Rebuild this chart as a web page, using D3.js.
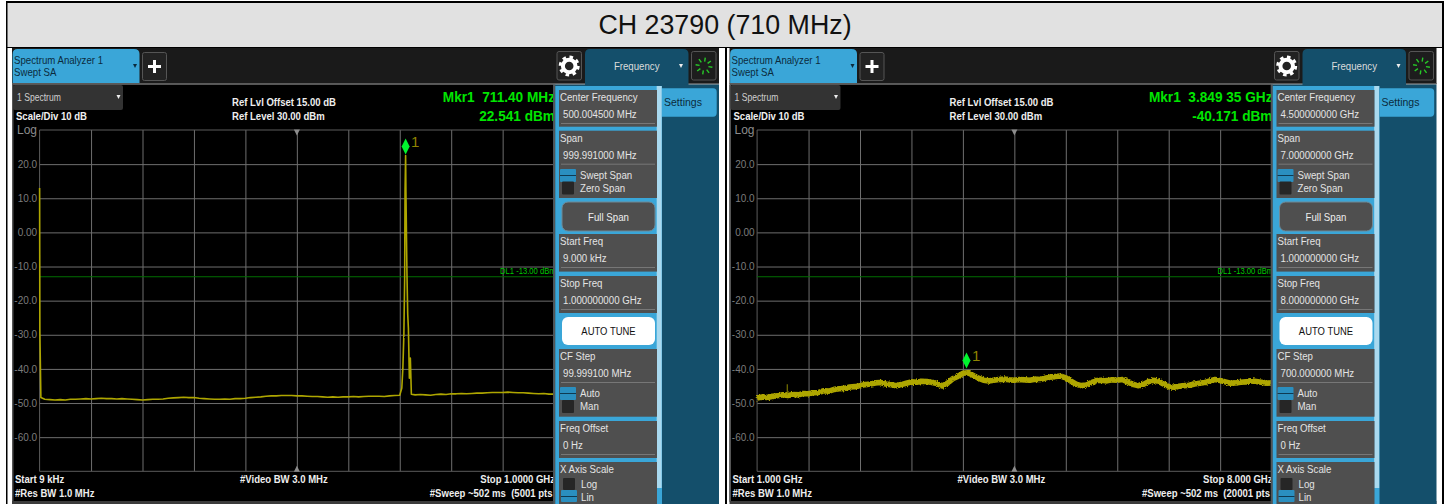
<!DOCTYPE html>
<html>
<head>
<meta charset="utf-8">
<script src="https://cdn.jsdelivr.net/npm/d3@7"></script>
<style>
html, body { margin: 0; padding: 0; background: #fff; overflow: hidden; }
svg { display: block; font-family: "Liberation Sans", Arial, sans-serif; }
text { white-space: pre; }
</style>
</head>
<body>
<div class="chart"></div>
<script>
const WIDTH = 1450;
const HEIGHT = 504;

const TITLE = "CH 23790 (710 MHz)";
const LEVEL_TICKS = [20, 10, 0, -10, -20, -30, -40, -50, -60];
const LEVEL_LABELS = ["20.0", "10.0", "0.00", "-10.0", "-20.0", "-30.0", "-40.0", "-50.0", "-60.0"];
const LEVEL_RANGE = [-70, 30];
const DISPLAY_LINE = -13;

// left sweep, MHz / dBm
const leftFreqs = [0.009, 0.5, 2.5,
    10, 20, 30, 40, 50, 60, 70, 80, 90, 100, 110, 120, 130, 140, 150, 160, 170, 180, 190, 200,
    210, 220, 230, 240, 250, 260, 270, 280, 290, 300, 310, 320, 330, 340, 350, 360, 370, 380, 390, 400,
    410, 420, 430, 440, 450, 460, 470, 480, 490, 500, 510, 520, 530, 540, 550, 560, 570, 580, 590, 600,
    610, 620, 630, 640, 650, 660, 670, 680, 690, 700,
    704, 706, 708, 709.5, 710.3, 711.4, 712, 714, 715.5, 716.8, 718.7, 720.6, 722.6,
    730, 740, 750, 760, 770, 780, 790, 800, 810, 820, 830, 840, 850, 860, 870, 880, 890, 900,
    910, 920, 930, 940, 950, 960, 970, 980, 990, 1000];
const leftLevels = [13, -28.9, -48.4,
    -48.9, -49.0, -49.1, -49.0, -49.1, -48.9, -48.9, -48.8, -48.7, -48.8, -48.7, -48.6, -48.7, -48.7, -48.8, -48.7, -48.8, -48.9, -49.0, -49.1,
    -49.0, -48.9, -48.9, -48.8, -48.6, -48.5, -48.4, -48.3, -48.4, -48.4, -48.6, -48.7, -48.8, -48.9, -48.9, -48.8, -48.9, -48.7, -48.7, -48.6,
    -48.4, -48.3, -48.2, -48.0, -47.9, -47.9, -47.8, -47.8, -47.8, -47.9, -47.9, -48.0, -48.1, -48.1, -48.2, -48.3, -48.2, -48.3, -48.2, -48.2,
    -48.1, -48.2, -48.1, -48.0, -48.0, -48.0, -48.1, -47.9, -47.8, -47.7,
    -45.6, -40, -30, -14, 12, 22.541, 12, -12, -24, -28, -42.7, -36.8, -47.4,
    -47.6, -47.5, -47.6, -47.7, -47.5, -47.4, -47.5, -47.3, -47.3, -47.2, -47.3, -47.2, -47.1, -47.1, -47.0, -46.9, -46.9, -46.9,
    -46.8, -46.9, -47.0, -47.0, -47.1, -47.2, -47.3, -47.2, -47.4, -47.4];

// right sweep, GHz / dBm
const rightFreqs = [1, 1.07, 1.14, 1.21, 1.28, 1.35, 1.42, 1.49, 1.56, 1.63,
    1.7, 1.77, 1.84, 1.91, 1.98, 2.05, 2.12, 2.19, 2.26, 2.33,
    2.4, 2.47, 2.54, 2.61, 2.68, 2.75, 2.82, 2.89, 2.96, 3.03,
    3.1, 3.17, 3.24, 3.31, 3.38, 3.45, 3.52, 3.59, 3.66, 3.73,
    3.8, 3.87, 3.94, 4.01, 4.08, 4.15, 4.22, 4.29, 4.36, 4.43,
    4.5, 4.57, 4.64, 4.71, 4.78, 4.85, 4.92, 4.99, 5.06, 5.13,
    5.2, 5.27, 5.34, 5.41, 5.48, 5.55, 5.62, 5.69, 5.76, 5.83,
    5.9, 5.97, 6.04, 6.11, 6.18, 6.25, 6.32, 6.39, 6.46, 6.53,
    6.6, 6.67, 6.74, 6.81, 6.88, 6.95, 7.02, 7.09, 7.16, 7.23,
    7.3, 7.37, 7.44, 7.51, 7.58, 7.65, 7.72, 7.79, 7.86, 7.93, 8];
const rightLevels = [-48.5, -48.2, -48.4, -48.0, -47.9, -47.6, -47.8, -47.5, -47.6, -47.2,
    -47.3, -47.0, -46.9, -46.4, -46.5, -46.0, -45.8, -45.7, -45.3, -45.2,
    -44.9, -44.6, -44.4, -44.1, -44.0, -44.4, -44.6, -44.9, -44.6, -44.2,
    -43.8, -43.9, -43.6, -43.7, -44.0, -44.3, -45.0, -44.2, -42.9, -42.2,
    -41.3, -41.1, -41.9, -42.7, -43.3, -43.5, -43.3, -43.1, -43.0, -43.2,
    -43.3, -43.1, -43.2, -43.3, -43.0, -43.1, -42.7, -42.4, -42.2, -42.1,
    -42.6, -43.6, -44.5, -44.9, -44.7, -44.0, -43.4, -43.3, -43.5, -43.2,
    -43.3, -43.1, -43.8, -44.5, -44.9, -44.6, -43.8, -43.3, -43.6, -44.4,
    -45.2, -45.4, -45.1, -44.9, -44.8, -44.4, -44.2, -44.0, -43.5, -43.1,
    -43.4, -43.8, -44.2, -44.1, -43.9, -43.8, -43.5, -43.7, -43.9, -44.2, -44.1];
const rightSpurFreqs = [1.41, 1.41];
const rightSpurLevels = [-47.6, -44.5];

const leftMarker = [711.4, 22.541];
const rightMarker = [3.84935, -40.171];

const leftTexts = {
    mkr: "Mkr1  711.40 MHz", mkrLevel: "22.541 dBm",
    start: "Start 9 kHz", stop: "Stop 1.0000 GHz", sweep: "#Sweep ~502 ms  (5001 pts",
    center: "500.004500 MHz", span: "999.991000 MHz", startFreq: "9.000 kHz",
    stopFreq: "1.000000000 GHz", cfStep: "99.999100 MHz"
};
const rightTexts = {
    mkr: "Mkr1  3.849 35 GHz", mkrLevel: "-40.171 dBm",
    start: "Start 1.000 GHz", stop: "Stop 8.000 GHz", sweep: "#Sweep ~502 ms  (20001 pts",
    center: "4.500000000 GHz", span: "7.00000000 GHz", startFreq: "1.000000000 GHz",
    stopFreq: "8.000000000 GHz", cfStep: "700.000000 MHz"
};

const BLUE = "#3aa6d8";
const NAVY = "#144f6b";
const CELL = "#4f4f4f";
const GRID = "#6e6e6e";
const TRACE = "#aea600";
const GREEN = "#00e600";

const PLOT_LEFT = 39.6, PLOT_RIGHT = 554.1, PLOT_TOP = 130, PLOT_BOTTOM = 471.3;

// the analyzer font is narrower than Liberation Sans
const UI = { sx: 0.92 };
const BOLD = { bold: true, sx: 0.91 };

var _svg;

var translate = function (x, y) {
    return "translate(" + x + "," + y + ")";
};

var addText = function (g, x, y, str, size, color, opts) {
    opts = opts || {};
    var t = g.append("text")
        .attr("transform", translate(x, y) + " scale(" + (opts.sx || 1) + ",1)")
        .attr("font-size", size)
        .attr("fill", color)
        .text(str);
    if (opts.bold) t.attr("font-weight", "bold");
    if (opts.anchor) t.attr("text-anchor", opts.anchor);
    return t;
};

var addRect = function (g, x, y, w, h, fill, rx) {
    return g.append("rect")
        .attr("x", x).attr("y", y)
        .attr("width", w).attr("height", h)
        .attr("rx", rx || 0)
        .attr("fill", fill);
};

var triangle = function (g, cx, cy, size, color, down) {
    var d = down ? size : -size;
    g.append("path")
        .attr("d", "M" + (cx - size) + "," + (cy - d) + "L" + (cx + size) + "," + (cy - d) + "L" + cx + "," + (cy + d) + "Z")
        .attr("fill", color);
};

var addFuzz = function (defs, id, scale) {
    var f = defs.append("filter")
        .attr("id", id)
        .attr("filterUnits", "userSpaceOnUse")
        .attr("x", 0).attr("y", 0)
        .attr("width", 730).attr("height", HEIGHT);
    f.append("feTurbulence")
        .attr("type", "fractalNoise")
        .attr("baseFrequency", 0.7)
        .attr("numOctaves", 1)
        .attr("seed", 4)
        .attr("result", "noise");
    f.append("feDisplacementMap")
        .attr("in", "SourceGraphic")
        .attr("in2", "noise")
        .attr("scale", scale)
        .attr("xChannelSelector", "R")
        .attr("yChannelSelector", "G");
};

var generateHeader = function (g) {
    addRect(g, 12, 48, 707, 36, "#1a1a1a");
    addRect(g, 12, 83, 707, 1.5, "#5a5a5a");

    g.append("path")
        .attr("d", "M12.6,83V54q0,-5 5,-5H134q5.5,0 5.5,5V83Z")
        .attr("fill", BLUE);
    addText(g, 14, 64, "Spectrum Analyzer 1", 10.5, "#0b2b3d", UI);
    addText(g, 14, 76, "Swept SA", 10.5, "#0b2b3d", UI);
    triangle(g, 135, 66, 2, "#0b2b3d", true);

    addRect(g, 142.5, 52.5, 24, 28, "#222", 2).attr("stroke", "#555");
    addRect(g, 148, 65, 13, 3, "#fff");
    addRect(g, 153, 60, 3, 13, "#fff");

    addRect(g, 557, 51.5, 24.5, 28.5, "#222", 2).attr("stroke", "#555");
    g.append("circle").attr("cx", 569.2).attr("cy", 66).attr("r", 6.3)
        .attr("fill", "none").attr("stroke", "#fff").attr("stroke-width", 4);
    g.append("circle").attr("cx", 569.2).attr("cy", 66).attr("r", 9)
        .attr("fill", "none").attr("stroke", "#fff").attr("stroke-width", 3)
        .attr("stroke-dasharray", "3.5 3.57");

    g.append("path")
        .attr("d", "M585,86V54q0,-5 5,-5H683q5.5,0 5.5,5V86Z")
        .attr("fill", NAVY);
    addText(g, 636.7, 70, "Frequency", 10.5, "#dcdcdc", { anchor: "middle", sx: 0.92 });
    triangle(g, 681, 66, 2, "#eee", true);

    addRect(g, 691.5, 51.5, 24.5, 28.5, "#1d1d1d", 2).attr("stroke", "#555");
    d3.range(8).forEach(function (i) {
        var a = i * Math.PI / 4 + 0.15;
        g.append("line")
            .attr("x1", 704 + 4.5 * Math.cos(a)).attr("y1", 66 + 4.5 * Math.sin(a))
            .attr("x2", 704 + 8.5 * Math.cos(a)).attr("y2", 66 + 8.5 * Math.sin(a))
            .attr("stroke", "#27c927").attr("stroke-width", 1.4);
    });
};

var generatePlot = function (g, id, xDomain, freqs, levels, marker, texts) {
    var xScale = d3.scaleLinear().domain(xDomain).range([PLOT_LEFT, PLOT_RIGHT]);
    var yScale = d3.scaleLinear().domain(LEVEL_RANGE).range([PLOT_BOTTOM, PLOT_TOP]);
    var line = d3.line()
        .x(function (d) { return xScale(d[0]); })
        .y(function (d) { return yScale(d[1]); });

    addRect(g, 12, 84.5, 541.5, 417, "#000");
    addRect(g, 12, 84.5, 1.5, 417, "#555");
    addRect(g, 12, 501, 707, 3, "#3c3c3c");

    // grid comes from the axes, ticks stretched across the plot
    var xTicks = d3.range(1, 10).map(function (i) { return xDomain[0] + (xDomain[1] - xDomain[0]) * i / 10; });
    var xAxis = d3.axisBottom(xScale).tickValues(xTicks).tickSize(PLOT_TOP - PLOT_BOTTOM).tickFormat("");
    var yAxis = d3.axisLeft(yScale).tickValues(LEVEL_TICKS)
        .tickSize(PLOT_LEFT - PLOT_RIGHT)
        .tickFormat(function (d, i) { return LEVEL_LABELS[i]; });

    var gx = g.append("g").attr("transform", translate(0, PLOT_BOTTOM)).call(xAxis);
    gx.select(".domain").remove();
    gx.selectAll("line").attr("stroke", GRID);

    var gy = g.append("g").attr("transform", translate(PLOT_LEFT, 0)).call(yAxis);
    gy.select(".domain").remove();
    gy.selectAll("line").attr("stroke", GRID);
    gy.selectAll("text")
        .attr("x", -2.5)
        .attr("font-size", 10)
        .attr("font-family", "Liberation Sans")
        .attr("fill", "#7c7c7c");

    g.append("path")
        .attr("d", "M" + PLOT_LEFT + "," + PLOT_TOP + "H" + PLOT_RIGHT + "M" + PLOT_LEFT + "," + PLOT_TOP + "V" + PLOT_BOTTOM + "M" + PLOT_LEFT + "," + PLOT_BOTTOM + "H" + PLOT_RIGHT)
        .attr("fill", "none")
        .attr("stroke", "#5c5c5c");

    triangle(g, xScale((xDomain[0] + xDomain[1]) / 2), PLOT_TOP + 2.5, 3, "#8c8c8c", true);
    triangle(g, xScale((xDomain[0] + xDomain[1]) / 2), PLOT_BOTTOM - 2.5, 3, "#8c8c8c", false);

    g.append("line")
        .attr("x1", PLOT_LEFT).attr("x2", PLOT_RIGHT)
        .attr("y1", yScale(DISPLAY_LINE)).attr("y2", yScale(DISPLAY_LINE))
        .attr("stroke", "#026f02").attr("stroke-width", 1.2);
    addText(g, 500, 274, "DL1 -13.00 dBm", 8.5, "#00c800", { sx: 0.9 });

    g.append("path")
        .attr("d", line(d3.zip(freqs, levels)))
        .attr("fill", "none")
        .attr("stroke", TRACE)
        .attr("stroke-width", id == "left" ? 1.6 : 5.6)
        .attr("stroke-linejoin", "round")
        .attr("filter", id == "left" ? "url(#fuzzLeft)" : "url(#fuzzRight)");

    if (id == "right") {
        g.append("path")
            .attr("d", line(d3.zip(rightSpurFreqs, rightSpurLevels)))
            .attr("stroke", "#8f8900");
    }

    // marker sits just above the trace point it reads
    var mx = xScale(marker[0]), my = yScale(marker[1]) - 9;
    g.append("path")
        .attr("d", "M" + mx + "," + (my - 8) + "L" + (mx + 4) + "," + my + "L" + mx + "," + (my + 8) + "L" + (mx - 4) + "," + my + "Z")
        .attr("fill", "#00f52e");
    addText(g, mx + 5.5, my + 1, "1", 15, "#8f8400");

    addRect(g, 13, 85, 110, 25, "#333", 2);
    addText(g, 17, 101, "1 Spectrum", 10, "#cfcfcf", { sx: 0.86 });
    triangle(g, 118.5, 97, 2, "#eee", true);
    addText(g, 16, 120, "Scale/Div 10 dB", 10.5, "#f0f0f0", BOLD);
    addText(g, 17, 134, "Log", 12, "#8c8c8c");
    addText(g, 232, 106, "Ref Lvl Offset 15.00 dB", 10.5, "#eee", BOLD);
    addText(g, 232, 120, "Ref Level 30.00 dBm", 10.5, "#eee", BOLD);

    addText(g, 555, 101.5, texts.mkr, 15, GREEN, { bold: true, anchor: "end", sx: 0.91 });
    addText(g, 555, 121, texts.mkrLevel, 15, GREEN, { bold: true, anchor: "end", sx: 0.91 });

    addText(g, 15, 483, texts.start, 10.5, "#eee", BOLD);
    addText(g, 15, 497, "#Res BW 1.0 MHz", 10.5, "#eee", BOLD);
    addText(g, 240, 483, "#Video BW 3.0 MHz", 10.5, "#eee", BOLD);
    addText(g, 555, 483, texts.stop, 10.5, "#eee", { bold: true, anchor: "end", sx: 0.91 });
    addText(g, 552.5, 497, texts.sweep, 10.5, "#eee", { bold: true, anchor: "end", sx: 0.91 });
};

var toggle = function (g, y, label, on, baseline) {
    if (on) {
        addRect(g, 560, y, 16, 13, "#2a8fc0", 1);
        addRect(g, 560, y + 6, 16, 1, "#0e3a52");
    } else {
        addRect(g, 562, y, 12, 13, "#262626", 1);
    }
    addText(g, 580, baseline, label, 11, "#e4e4e4", { sx: 0.88 });
};

var cell = function (g, y0, y1, label, value) {
    addRect(g, 559, y0, 98, y1 - y0, CELL);
    addText(g, 560, y0 + 11, label, 11, "#e4e4e4", { sx: 0.88 });
    addText(g, 563, y0 + 28, value, 11, "#e4e4e4", { sx: 0.88 });
    addRect(g, 561, y0 + 33, 94, 1, "#777");
};

var generateSidePanel = function (g, texts) {
    addRect(g, 553.3, 84.5, 165.7, 419.5, NAVY);
    addRect(g, 553.3, 84.5, 2, 419.5, "#555");
    addRect(g, 555.3, 86, 106.7, 418, BLUE);
    addRect(g, 656.7, 86, 5, 402, "#a9d9ef");

    g.append("path")
        .attr("d", "M662,88.3H713q3.7,0 3.7,3.7V113q0,3.7 -3.7,3.7H662Z")
        .attr("fill", BLUE);
    addText(g, 664, 105.7, "Settings", 10.5, "#0b2b3d");

    cell(g, 90, 126.7, "Center Frequency", texts.center);
    cell(g, 130.7, 198, "Span", texts.span);
    toggle(g, 169, "Swept Span", true, 179);
    toggle(g, 181.5, "Zero Span", false, 192);

    addRect(g, 562, 202, 93, 29, CELL, 6).attr("stroke", "#6f8a97");
    addText(g, 608.5, 221, "Full Span", 11, "#eee", { anchor: "middle", sx: 0.88 });

    cell(g, 234, 271.6, "Start Freq", texts.startFreq);
    cell(g, 276, 313, "Stop Freq", texts.stopFreq);

    addRect(g, 562, 317, 93, 28, "#fff", 6);
    addText(g, 608.5, 335, "AUTO TUNE", 11, "#111", { anchor: "middle", sx: 0.86 });

    cell(g, 349, 416.7, "CF Step", texts.cfStep);
    toggle(g, 387, "Auto", true, 397);
    toggle(g, 400, "Man", false, 410);

    cell(g, 421, 458, "Freq Offset", "0 Hz");

    addRect(g, 559, 462, 98, 42, CELL);
    addText(g, 560, 473, "X Axis Scale", 11, "#e4e4e4", { sx: 0.88 });
    addRect(g, 563, 478, 12, 12, "#262626", 1);
    addText(g, 581, 488, "Log", 11, "#e4e4e4", { sx: 0.88 });
    addRect(g, 561, 490, 16, 12, "#2a8fc0", 1);
    addRect(g, 561, 496, 16, 1, "#0e3a52");
    addText(g, 581, 501, "Lin", 11, "#e4e4e4", { sx: 0.88 });
};

var generateScreen = function (dx, id, xDomain, freqs, levels, marker, texts) {
    var g = _svg.append("g").attr("transform", translate(dx, 0)).attr("class", id);
    generateHeader(g);
    generatePlot(g, id, xDomain, freqs, levels, marker, texts);
    generateSidePanel(g, texts);
};

var generateChart = function () {
    _svg = d3.select(".chart").append("svg")
        .attr("width", WIDTH)
        .attr("height", HEIGHT);

    var defs = _svg.append("defs");
    addFuzz(defs, "fuzzLeft", 1.6);
    addFuzz(defs, "fuzzRight", 3.5);

    addRect(_svg, 0, 0, WIDTH, HEIGHT, "#fff");

    // title band and the table rules around the two screenshots
    addRect(_svg, 6, 1, 1438, 47, "#000");
    addRect(_svg, 7.5, 3, 1434.5, 44, "#e1e1e1");
    addRect(_svg, 6, 48, 1.5, 456, "#000");
    addRect(_svg, 725, 48, 2, 456, "#000");
    addRect(_svg, 1442, 48, 2, 456, "#000");
    addText(_svg, 725, 34, TITLE, 26.8, "#111", { anchor: "middle" });

    generateScreen(0, "left", [0.009, 1000], leftFreqs, leftLevels, leftMarker, leftTexts);
    generateScreen(717.5, "right", [1, 8], rightFreqs, rightLevels, rightMarker, rightTexts);
};

generateChart();
</script>
</body>
</html>
